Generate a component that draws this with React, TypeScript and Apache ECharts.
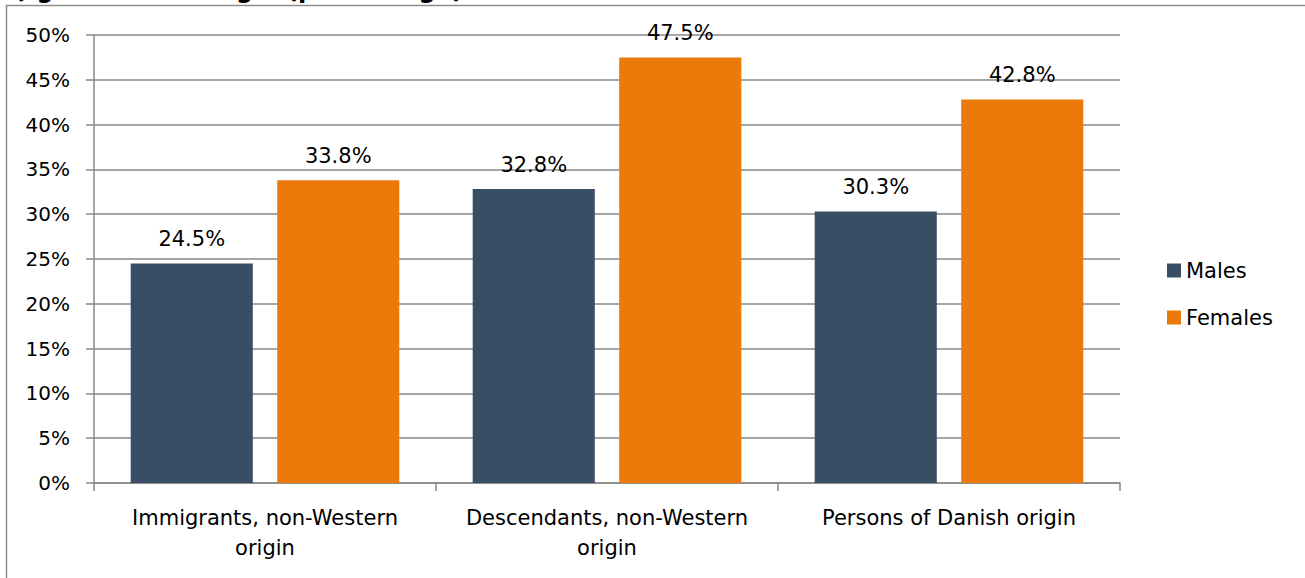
import React, { useEffect, useRef } from "react";
import * as echarts from "echarts";

const categories = [
  "Immigrants, non-Western\norigin",
  "Descendants, non-Western\norigin",
  "Persons of Danish origin",
];
const males = [24.5, 32.8, 30.3];
const females = [33.8, 47.5, 42.8];
const seriesNames = ["Males", "Females"];
const titleText = "b) gender and origin (percentage)";

const FONT = "'DejaVu Sans', 'Noto Sans', sans-serif";
const GRID_COLOR = "#898989";

export default function App() {
  const ref = useRef<HTMLDivElement>(null);

  useEffect(() => {
    if (!ref.current) return;
    const chart = echarts.init(ref.current, undefined, { renderer: "svg" });
    const label = {
      show: true,
      position: "top" as const,
      distance: 14,
      color: "#000",
      fontFamily: FONT,
      fontSize: 21,
      formatter: (p: any) => p.value.toFixed(1) + "%",
    };
    chart.setOption({
      animation: false,
      backgroundColor: "#fff",
      textStyle: { fontFamily: FONT },
      graphic: [
        {
          type: "rect",
          shape: { x: 6.5, y: 5.5, width: 1400, height: 700 },
          style: { fill: "none", stroke: "#8e8e8e", lineWidth: 1.5 },
          silent: true,
        },
        {
          type: "text",
          x: 0,
          y: -22,
          style: {
            text: titleText,
            fill: "#000",
            font: "bold 24px " + FONT,
          },
          silent: true,
        },
      ],
      grid: { left: 94, right: 185, top: 35, bottom: 95 },
      legend: {
        orient: "vertical",
        left: 1162,
        top: 255,
        itemWidth: 14,
        itemHeight: 14,
        itemGap: 26,
        icon: "rect",
        data: seriesNames,
        textStyle: {
          fontSize: 21,
          color: "#000",
          fontFamily: FONT,
        },
      },
      xAxis: {
        type: "category",
        data: categories,
        axisLine: { lineStyle: { color: GRID_COLOR, width: 1.5 } },
        axisTick: { show: true, length: 8, lineStyle: { color: GRID_COLOR, width: 1.5 } },
        axisLabel: {
          interval: 0,
          color: "#000",
          fontSize: 21,
          lineHeight: 30,
          margin: 20,
          fontFamily: FONT,
        },
      },
      yAxis: {
        type: "value",
        min: 0,
        max: 50,
        interval: 5,
        axisLine: { show: true, lineStyle: { color: GRID_COLOR, width: 1.5 } },
        axisTick: { show: true, length: 8, lineStyle: { color: GRID_COLOR, width: 1.5 } },
        axisLabel: {
          color: "#000",
          fontSize: 20,
          margin: 24,
          fontFamily: FONT,
          formatter: (v: number) => v + "%",
        },
        splitLine: { lineStyle: { color: GRID_COLOR, width: 1.5 } },
      },
      series: [
        {
          name: seriesNames[0],
          type: "bar",
          data: males,
          barWidth: "35.7%",
          barGap: "20%",
          itemStyle: { color: "#394e65" },
          label,
        },
        {
          name: seriesNames[1],
          type: "bar",
          data: females,
          barWidth: "35.7%",
          itemStyle: { color: "#ec7a0b" },
          label,
        },
      ],
    });
    return () => chart.dispose();
  }, []);

  return (
    <div
      ref={ref}
      style={{ position: "fixed", left: 0, top: 0, width: 1305, height: 578 }}
    />
  );
}
